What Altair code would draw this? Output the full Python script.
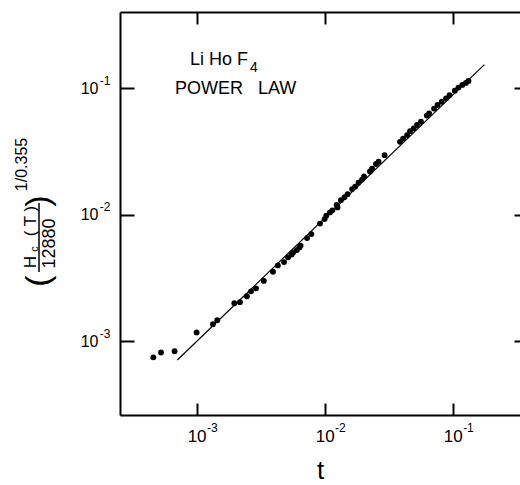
import altair as alt
import pandas as pd

# ---- data ----
T_VALUES = [4.59e-4, 5.27e-4, 6.73e-4,
            1.00e-3, 1.34e-3, 1.45e-3, 1.97e-3, 2.18e-3, 2.47e-3, 2.66e-3, 2.91e-3,
            3.35e-3, 3.95e-3, 4.31e-3, 4.82e-3, 5.18e-3, 5.52e-3, 5.67e-3, 6.06e-3,
            6.35e-3, 6.49e-3, 7.29e-3, 7.88e-3, 9.21e-3,
            1.00e-2, 1.03e-2, 1.10e-2, 1.15e-2, 1.24e-2, 1.26e-2, 1.34e-2, 1.43e-2,
            1.51e-2, 1.64e-2, 1.73e-2, 1.84e-2, 1.96e-2, 2.03e-2, 2.26e-2, 2.35e-2,
            2.52e-2, 2.64e-2, 2.94e-2,
            3.88e-2, 4.10e-2, 4.41e-2, 4.65e-2, 4.96e-2, 5.27e-2, 5.66e-2, 6.28e-2,
            6.55e-2, 7.16e-2, 7.62e-2, 8.22e-2, 8.89e-2, 9.46e-2,
            0.104, 0.111, 0.119, 0.127, 0.133]
Y_VALUES = [7.43e-4, 8.11e-4, 8.30e-4,
            1.17e-3, 1.36e-3, 1.46e-3, 1.99e-3, 2.03e-3, 2.26e-3, 2.47e-3, 2.61e-3,
            2.99e-3, 3.53e-3, 3.96e-3, 4.21e-3, 4.59e-3, 4.83e-3, 5.01e-3, 5.24e-3,
            5.48e-3, 5.69e-3, 6.52e-3, 7.01e-3, 8.49e-3,
            9.21e-3, 9.79e-3, 1.04e-2, 1.08e-2, 1.19e-2, 1.14e-2, 1.30e-2, 1.37e-2,
            1.45e-2, 1.59e-2, 1.66e-2, 1.79e-2, 1.89e-2, 2.00e-2, 2.19e-2, 2.31e-2,
            2.51e-2, 2.62e-2, 2.95e-2,
            3.76e-2, 3.99e-2, 4.25e-2, 4.57e-2, 4.80e-2, 5.11e-2, 5.42e-2, 6.07e-2,
            6.31e-2, 6.89e-2, 7.35e-2, 7.80e-2, 8.30e-2, 8.81e-2,
            9.55e-2, 0.101, 0.106, 0.110, 0.114]
FIT_T = [7.07e-4, 0.177]
FIT_Y = [7.08e-4, 0.1535]

X_DOMAIN = [2.52e-4, 0.336]
Y_DOMAIN = [2.60e-4, 0.40]
X_TICKS = [1e-3, 1e-2, 1e-1]
Y_TICKS = [1e-3, 1e-2, 1e-1]
TICK_BASE = "10"
TICK_EXPONENTS = ["-3", "-2", "-1"]
X_TITLE = "t"
ANNOTATIONS = ["Li Ho F", "4", "POWER", "LAW"]
Y_TITLE_PARTS = ["(", "H", "c", "( T )", "12880", ")", "1/0.355"]

# ---- layout / style ----
W, H = 400, 403
FONT = "Liberation Sans"
ANNOT_LAYOUT = [  # x, y (px, relative to plot), size
    (70, 53, 18), (130, 60, 14), (55, 82, 18), (138, 82, 18)]
YT_LAYOUT = [  # x, y, size  (rotated text, baseline x)
    (-71, 269, 34), (-84, 250, 17), (-82, 237, 11), (-84, 209, 17),
    (-65, 231.5, 18), (-71, 189, 34), (-93, 152.5, 16)]

points_df = pd.DataFrame({"t": T_VALUES, "y": Y_VALUES})
fit_df = pd.DataFrame({"t": FIT_T, "y": FIT_Y})

xs = alt.Scale(type="log", domain=X_DOMAIN, nice=False)
ys = alt.Scale(type="log", domain=Y_DOMAIN, nice=False)


def label_expr(ticks, labels):
    e = ""
    for v, lab in zip(ticks[:-1], labels[:-1]):
        e += f"datum.value < {v * 3} ? '{lab}' : "
    return e + f"'{labels[-1]}'"


exp_expr = label_expr(X_TICKS, TICK_EXPONENTS)
base_expr = f"'{TICK_BASE}'"

tick_style = dict(labels=False, grid=False, ticks=True, tickColor="black",
                  tickWidth=2, domain=True, domainColor="black", domainWidth=2)
label_style = dict(ticks=False, tickSize=0, domain=False, grid=False,
                   labelFont=FONT, labelColor="black", labelFlush=False,
                   labelOverlap=False)

points = alt.Chart(points_df).mark_circle(size=34, color="black", opacity=1).encode(
    x=alt.X("t:Q", scale=xs, axis=alt.Axis(
        orient="bottom", values=X_TICKS, labelExpr=base_expr, labelFontSize=17,
        labelPadding=13, title=X_TITLE, titleFont=FONT, titleFontSize=26,
        titleFontWeight="normal", titleColor="black", titleY=63,
        titleBaseline="alphabetic", **label_style)),
    y=alt.Y("y:Q", scale=ys, title=None, axis=alt.Axis(
        orient="left", values=Y_TICKS, labelExpr=base_expr, labelFontSize=16,
        labelPadding=22, **label_style)),
)

sup = alt.Chart(points_df).mark_point(opacity=0).encode(
    x=alt.X("t:Q", scale=xs, title=None, axis=alt.Axis(
        orient="bottom", values=X_TICKS, labelExpr=exp_expr, labelFontSize=12,
        labelPadding=7, labelAlign="left", labelOffset=10, **label_style)),
    y=alt.Y("y:Q", scale=ys, title=None, axis=alt.Axis(
        orient="left", values=Y_TICKS, labelExpr=exp_expr, labelFontSize=12,
        labelPadding=10, labelOffset=-8, **label_style)),
)

fit = alt.Chart(fit_df).mark_line(color="black", strokeWidth=1.2).encode(
    x=alt.X("t:Q", scale=xs, title=None, axis=alt.Axis(
        orient="top", offset=-H, values=X_TICKS, tickSize=12, **tick_style)),
    y=alt.Y("y:Q", scale=ys, title=None, axis=alt.Axis(
        orient="right", offset=-W, values=Y_TICKS, tickSize=14, **tick_style)),
)

ghost = alt.Chart(points_df).mark_point(opacity=0).encode(
    x=alt.X("t:Q", scale=xs, title=None, axis=alt.Axis(
        orient="bottom", offset=-H, values=X_TICKS, tickSize=12, **tick_style)),
    y=alt.Y("y:Q", scale=ys, title=None, axis=alt.Axis(
        orient="right", offset=-6, values=Y_TICKS, tickSize=6, labels=False,
        grid=False, ticks=True, tickColor="black", tickWidth=2, domain=False)),
)


def label(txt, x, y, size, angle=0, align="left"):
    kw = dict(font=FONT, fontSize=size, color="black", align=align,
              baseline="alphabetic")
    if angle:
        kw["angle"] = angle
    return alt.Chart(pd.DataFrame({"s": [txt]})).mark_text(**kw).encode(
        text="s:N", x=alt.value(x), y=alt.value(y))


texts = [label(t, x, y, s) for t, (x, y, s) in zip(ANNOTATIONS, ANNOT_LAYOUT)]
texts += [label(t, x, y, s, angle=270, align="center")
          for t, (x, y, s) in zip(Y_TITLE_PARTS, YT_LAYOUT)]

frac_bar = alt.Chart(pd.DataFrame({"a": [0]})).mark_rule(
    color="black", strokeWidth=1.5).encode(
    x=alt.value(-81), y=alt.value(191), y2=alt.value(260))

chart = alt.layer(points, sup, fit, ghost, frac_bar, *texts).resolve_axis(
    x="independent", y="independent"
).properties(
    width=W, height=H,
    autosize=alt.AutoSizeParams(type="none"),
    padding={"left": 120, "top": 12, "right": 0, "bottom": 70},
    background="white",
).configure_view(stroke=None)

chart.save("out.html", embed_options={"renderer": "svg", "actions": False})
